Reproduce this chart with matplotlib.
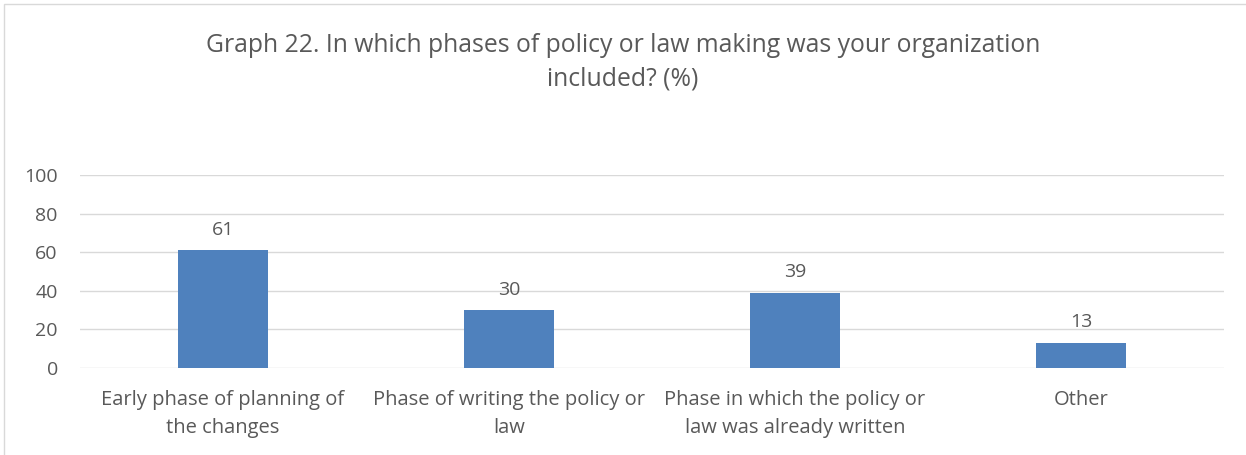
import matplotlib.pyplot as plt
from matplotlib.patches import Rectangle

categories = [
    "Early phase of planning of\nthe changes",
    "Phase of writing the policy or\nlaw",
    "Phase in which the policy or\nlaw was already written",
    "Other",
]
values = [61, 30, 39, 13]
yticks = [0, 20, 40, 60, 80, 100]
title = "Graph 22. In which phases of policy or law making was your organization\nincluded? (%)"

plt.rcParams['font.family'] = ['Open Sans', 'DejaVu Sans']
txt = '#595959'
W, H = 1246, 455

fig = plt.figure(figsize=(W / 100, H / 100), dpi=100)
ax = fig.add_axes([80 / W, 1 - 368 / H, (1224 - 80) / W, (368 - 175) / H])

x = range(len(categories))
bars = ax.bar(x, values, width=0.315, color='#4F81BD', zorder=3)
for b, v in zip(bars, values):
    ax.text(b.get_x() + b.get_width() / 2, v + 6, str(v), ha='center', va='bottom',
            fontsize=14, color=txt)

ax.set_xlim(-0.5, len(categories) - 0.5)
ax.set_ylim(0, 100)
ax.set_yticks(yticks)
ax.set_xticks(list(x))
ax.set_xticklabels(categories, fontsize=14.5, color=txt, linespacing=1.55)
ax.tick_params(axis='y', labelsize=14, labelcolor=txt, length=0, pad=16)
ax.tick_params(axis='x', length=0, pad=16)
ax.grid(axis='y', color='#D9D9D9', linewidth=1, zorder=0)
for s in ax.spines.values():
    s.set_visible(False)

fig.text(0.5, 1 - 62 / H, title, ha='center', va='center', fontsize=17.8,
         color=txt, linespacing=1.45)

# chart frame
fig.patches.append(Rectangle((4 / W, -0.1), 1.2, 1 - 4 / H + 0.1, transform=fig.transFigure,
                             fill=False, edgecolor='#D9D9D9', linewidth=1))

fig.savefig('out.png', dpi=100)
